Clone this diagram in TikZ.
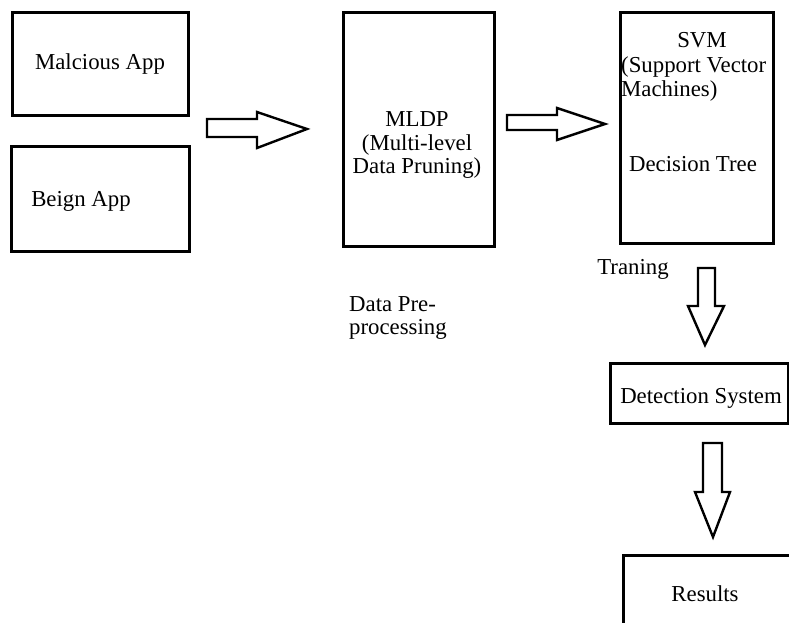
\documentclass[tikz,border=0pt]{standalone}
\usepackage{fontspec}
\setmainfont{Liberation Serif}
\usepackage{tikz}

\begin{document}
\begin{tikzpicture}[x=1pt, y=-1pt,
    box/.style={draw, line width=3pt, inner sep=0pt},
    fatarrow/.style={draw, line width=2.4pt, line join=miter},
    label/.style={inner sep=0pt, font=\fontsize{22.8}{23.5}\selectfont}]

    \useasboundingbox (0,0) rectangle (789,622);
    \clip (0,0) rectangle (789,622);

    % Input apps
    \node[box, minimum width=176, minimum height=103] (malapp) at (100,63.5) {};
    \node[label] (maltext) at (100,64) {Malcious App};
    \node[box, minimum width=178, minimum height=105] (beignapp) at (100,198.5) {};
    \node[label] (beigntext) at (81,201) {Beign App};

    % Pre-processing
    \node[box, minimum width=151, minimum height=234] (mldp) at (418.5,129) {};
    \node[label, align=center] (mldptext) at (417,145) {MLDP\\(Multi-level\\Data Pruning)};
    \node[label, align=left, anchor=west] (pretext) at (349,318) {Data Pre-\\processing};

    % Classifiers
    \node[box, minimum width=153, minimum height=231] (svm) at (696.5,127.5) {};
    \node[label] (svmtext) at (702,40) {SVM};
    \node[label, align=left, anchor=west] (svmlong) at (621,79) {(Support Vector\\Machines)};
    \node[label] (dtree) at (693,164) {Decision Tree};
    \node[label] (training) at (633,269) {Traning};

    % Detection and results
    \node[box, minimum width=178, minimum height=60] (detect) at (699,393) {};
    \node[label] (detecttext) at (701,398) {Detection System};
    \draw[box] (623,555) rectangle (810,650);
    \node[label] (results) at (705,594) {Results};

    % Block arrows
    \draw[fatarrow] (207,119) -- (257,119) -- (257,112) -- (307,129)
        -- (257,148) -- (257,137) -- (207,137) -- cycle;
    \draw[fatarrow] (507,115) -- (557,115) -- (557,108) -- (605,124)
        -- (557,140) -- (557,130) -- (507,130) -- cycle;
    \draw[fatarrow] (698,268) -- (715,268) -- (715,306) -- (724,306)
        -- (705,345) -- (688,306) -- (698,306) -- cycle;
    \draw[fatarrow] (703,443) -- (722,443) -- (722,492) -- (730,492)
        -- (713,537) -- (695,492) -- (703,492) -- cycle;

\end{tikzpicture}
\end{document}
